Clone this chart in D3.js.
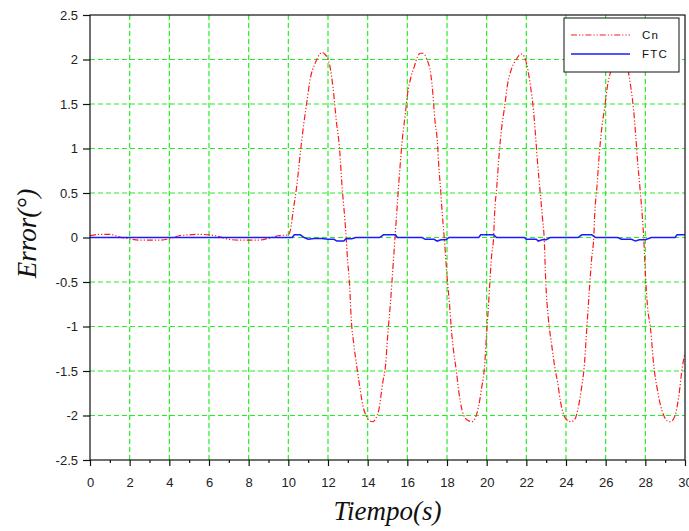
<!DOCTYPE html>
<html>
<head>
<meta charset="utf-8">
<script src="https://cdn.jsdelivr.net/npm/d3@7"></script>
<style>
  html, body { margin: 0; padding: 0; background: #fff; }
  svg { display: block; }
  .tick text { font-family: "Liberation Sans", Arial, sans-serif; font-size: 13px; fill: #222; }
</style>
</head>
<body>
<svg id="chart" width="689" height="531"></svg>
<script>
// Tracking error, conventional controller (Cn)
const cnTime = [0,0.5,1,1.5,2,2.5,3,3.5,4,4.5,5,5.5,6,6.5,7,7.5,8,8.5,9,9.5,10,
  10.1,10.25,10.42,10.62,10.78,10.92,11.12,11.34,11.55,11.7,11.84,12.0,12.09,12.25,12.42,12.59,12.7,12.84,12.92,
  12.97,13.09,13.17,13.29,13.42,13.59,13.76,13.96,14.1,14.26,14.42,14.56,14.76,14.9,15.01,15.15,15.27,15.38,
  15.51,15.63,15.76,15.9,16.01,16.18,16.35,16.51,16.65,16.78,17.01,17.18,17.29,17.39,17.51,17.59,17.68,17.76,17.86,
  18.01,18.13,18.23,18.34,18.46,18.6,18.76,18.92,19.1,19.25,19.4,19.57,19.74,19.91,19.99,20.07,20.15,20.25,20.35,
  20.4,20.51,20.63,20.76,20.9,21.06,21.26,21.52,21.65,21.77,21.97,22.19,22.36,22.47,22.57,22.69,22.81,22.9,
  22.98,23.11,23.28,23.45,23.58,23.72,23.85,24.05,24.25,24.45,24.6,24.77,24.93,25.02,25.1,25.19,25.3,25.4,
  25.45,25.56,25.68,25.81,25.95,26.11,26.31,26.57,26.7,26.82,27.02,27.24,27.41,27.52,27.62,27.74,27.85,27.92,
  28.0,28.1,28.27,28.43,28.6,28.76,28.93,29.1,29.27,29.42,29.55,29.7,29.87,30];
const cnError = [0.02,0.035,0.035,0.005,-0.015,-0.03,-0.03,-0.03,-0.015,0.02,0.03,0.035,0.03,0.01,-0.02,-0.03,-0.03,-0.03,-0.01,0.02,0.03,
  0.08,0.31,0.57,0.98,1.28,1.5,1.8,1.95,2.05,2.08,2.06,2.0,1.93,1.69,1.31,0.98,0.6,0.23,-0.01,
  -0.2,-0.54,-0.91,-1.18,-1.4,-1.66,-1.89,-2.02,-2.06,-2.07,-2.03,-1.94,-1.63,-1.44,-1.1,-0.73,-0.35,0.0,
  0.42,0.79,1.13,1.39,1.61,1.8,1.92,2.03,2.07,2.07,1.99,1.84,1.61,1.32,1.09,0.79,0.53,0.27,0.0,
  -0.46,-0.76,-1.06,-1.29,-1.48,-1.74,-1.94,-2.03,-2.06,-2.07,-2.04,-1.92,-1.7,-1.4,-1.1,-0.84,-0.54,-0.2,0.0,
  0.27,0.57,0.94,1.24,1.46,1.73,1.9,2.01,2.05,2.06,1.99,1.73,1.43,1.13,0.83,0.53,0.23,-0.01,
  -0.5,-0.91,-1.21,-1.48,-1.63,-1.84,-1.97,-2.05,-2.07,-2.04,-1.93,-1.71,-1.42,-1.12,-0.85,-0.55,-0.22,0.0,
  0.27,0.57,0.94,1.24,1.46,1.73,1.9,2.01,2.05,2.06,1.99,1.73,1.43,1.13,0.83,0.53,0.23,-0.01,
  -0.4,-0.75,-1.04,-1.45,-1.7,-1.88,-2.0,-2.06,-2.07,-2.04,-1.96,-1.76,-1.45,-1.3];

// Tracking error, FTC controller
const ftcTime = [0,10.2,10.3,10.6,10.8,11.0,11.3,11.7,12.0,12.3,12.45,12.8,12.9,13.2,13.4,14.6,14.8,15.4,15.5,16.75,
  16.9,17.35,17.5,17.7,17.95,18.1,19.6,19.7,20.35,20.5,21.9,22.0,22.5,22.6,22.8,23.0,23.2,24.6,24.8,25.3,25.5,
  26.6,26.8,27.3,27.5,27.7,28.0,28.3,29.5,29.6,30];
const ftcError = [0,0,0.03,0.03,0,-0.02,-0.01,-0.01,-0.02,-0.02,-0.04,-0.04,-0.015,-0.015,0,0,0.03,0.03,0,0,
  -0.02,-0.02,-0.04,-0.025,-0.025,0,0,0.03,0.03,0,0,-0.02,-0.02,-0.04,-0.025,-0.025,0,0,0.03,0.03,0,
  0,-0.02,-0.02,-0.04,-0.025,-0.025,0,0,0.03,0.03];

const xTicks = [0,2,4,6,8,10,12,14,16,18,20,22,24,26,28,30];
const xMinorTicks = [1,3,5,7,9,11,13,15,17,19,21,23,25,27,29];
const yTicks = [-2.5,-2,-1.5,-1,-0.5,0,0.5,1,1.5,2,2.5];
const seriesNames = ["Cn", "FTC"];

const svg = d3.select("#chart");
const plotLeft = 90, plotRight = 685, plotTop = 15, plotBottom = 460;

const x = d3.scaleLinear().domain([0, 30]).range([plotLeft, plotRight]);
const y = d3.scaleLinear().domain([-2.5, 2.5]).range([plotBottom, plotTop]);

const gridColor = "#22ee22";

// grid
const grid = svg.append("g");
grid.selectAll("line.vx").data(xTicks.filter(d => d > 0 && d < 30)).join("line")
  .attr("x1", d => x(d)).attr("x2", d => x(d)).attr("y1", plotTop).attr("y2", plotBottom)
  .attr("stroke", gridColor).attr("stroke-width", 1.2).attr("stroke-dasharray", "5,3");
grid.selectAll("line.hy").data(yTicks.filter(d => d > -2.5 && d < 2.5)).join("line")
  .attr("x1", plotLeft).attr("x2", plotRight).attr("y1", d => y(d)).attr("y2", d => y(d))
  .attr("stroke", gridColor).attr("stroke-width", 1.2).attr("stroke-dasharray", "5,3");

// series
const cnData = cnTime.map((t, i) => [t, cnError[i]]);
const ftcData = ftcTime.map((t, i) => [t, ftcError[i]]);
const smoothLine = d3.line().x(d => x(d[0])).y(d => y(d[1])).curve(d3.curveMonotoneX);
const stepLine = d3.line().x(d => x(d[0])).y(d => y(d[1])).curve(d3.curveLinear);

svg.append("defs").append("clipPath").attr("id", "plotClip")
  .append("rect").attr("x", plotLeft).attr("y", plotTop)
  .attr("width", plotRight - plotLeft).attr("height", plotBottom - plotTop);

const plot = svg.append("g").attr("clip-path", "url(#plotClip)");
plot.append("path").datum(cnData).attr("d", smoothLine)
  .attr("fill", "none").attr("stroke", "#ff1a1a").attr("stroke-width", 1.2)
  .attr("stroke-dasharray", "6,2,1.2,2,1.2,2");
plot.append("path").datum(ftcData).attr("d", stepLine)
  .attr("fill", "none").attr("stroke", "#1a1aff").attr("stroke-width", 1.5);

// frame
svg.append("rect").attr("x", plotLeft).attr("y", plotTop)
  .attr("width", plotRight - plotLeft).attr("height", plotBottom - plotTop)
  .attr("fill", "none").attr("stroke", "#111").attr("stroke-width", 1.2);

// axes
const xAxis = svg.append("g").attr("transform", `translate(0,${plotBottom})`)
  .call(d3.axisBottom(x).tickValues(xTicks).tickFormat(d3.format("d")).tickSize(6).tickPadding(12));
xAxis.select(".domain").remove();
svg.append("g").attr("transform", `translate(0,${plotBottom})`)
  .call(d3.axisBottom(x).tickValues(xMinorTicks).tickFormat("").tickSize(3))
  .select(".domain").remove();

const yAxis = svg.append("g").attr("transform", `translate(${plotLeft},0)`)
  .call(d3.axisLeft(y).tickValues(yTicks).tickFormat(d => String(d)).tickSize(7).tickPadding(5));
yAxis.select(".domain").remove();
svg.selectAll(".tick line").attr("stroke", "#111").attr("stroke-width", 1.2);

// axis titles
svg.append("text").attr("x", (plotLeft + plotRight) / 2).attr("y", 520).attr("text-anchor", "middle")
  .attr("font-family", "'Liberation Serif', 'DejaVu Serif', serif").attr("font-style", "italic")
  .attr("font-size", 27).attr("fill", "#111").text("Tiempo(s)");
svg.append("text").attr("transform", `translate(36,${(plotTop + plotBottom) / 2 - 4}) rotate(-90)`)
  .attr("text-anchor", "middle")
  .attr("font-family", "'Liberation Serif', 'DejaVu Serif', serif").attr("font-style", "italic")
  .attr("font-size", 27).attr("fill", "#111").text("Error(°)");

// legend
const lg = svg.append("g");
lg.append("rect").attr("x", 564).attr("y", 18).attr("width", 115).attr("height", 54)
  .attr("fill", "#fff").attr("stroke", "#111").attr("stroke-width", 1);
lg.append("line").attr("x1", 571).attr("x2", 630).attr("y1", 35).attr("y2", 35)
  .attr("stroke", "#ff1a1a").attr("stroke-width", 1.2).attr("stroke-dasharray", "6,2,1.2,2,1.2,2");
lg.append("line").attr("x1", 571).attr("x2", 630).attr("y1", 54).attr("y2", 54)
  .attr("stroke", "#1a1aff").attr("stroke-width", 1.5);
lg.selectAll("text").data(seriesNames).join("text")
  .attr("x", 642).attr("y", (d, i) => 39 + i * 19)
  .attr("font-family", "'Liberation Sans', Arial, sans-serif").attr("font-size", 11.5)
  .attr("letter-spacing", 1.2).attr("fill", "#111").text(d => d);
</script>
</body>
</html>
